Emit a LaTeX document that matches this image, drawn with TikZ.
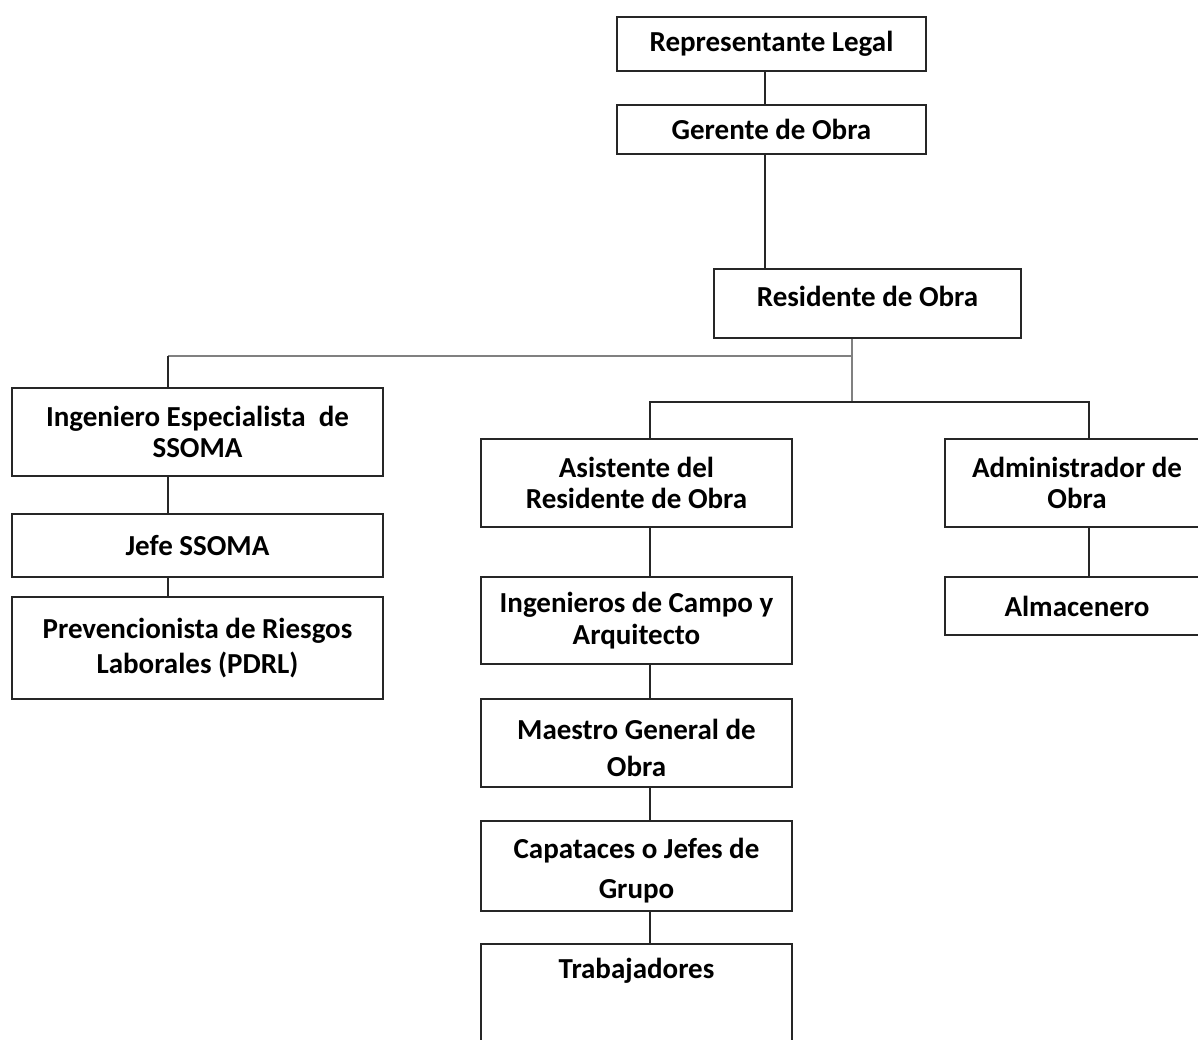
\documentclass[tikz,border=0pt]{standalone}
\usepackage{fontspec}
\setmainfont{Carlito}
\usetikzlibrary{positioning}

\begin{document}
\begin{tikzpicture}[x=0.02cm, y=-0.02cm,
  box/.style={draw=black!85, line width=0.035cm, align=center, inner sep=0pt,
    font=\fontsize{16.5}{18}\selectfont\bfseries},
  link/.style={draw=black!85, line width=0.035cm},
  glink/.style={draw=black!50, line width=0.045cm}]
\useasboundingbox (0,0) rectangle (1198,1039);
\begin{scope}
  \clip (0,0) rectangle (1198,1039);
  % upper chain
  \node[box, minimum width=6.18cm, minimum height=1.08cm] (rep) at (771.5,44) {Representante Legal};
  \node[box, minimum width=6.18cm, minimum height=0.98cm] (ger) at (771.5,129.5) {Gerente de Obra};
  \node[box, minimum width=6.14cm, text height=0.76cm, text depth=0.62cm, anchor=north] (res) at (867.5,268) {Residente de Obra};
  % left branch
  \node[box, minimum width=7.42cm, minimum height=1.76cm] (ise) at (197.5,432) {Ingeniero Especialista \ de\\SSOMA};
  \node[box, minimum width=7.42cm, minimum height=1.26cm] (jef) at (197.5,545.5) {Jefe SSOMA};
  \node[box, minimum width=7.42cm, minimum height=2.04cm] (pre) at (197.5,648) {Prevencionista de Riesgos\\[0.05cm]Laborales (PDRL)};
  % middle branch
  \node[box, minimum width=6.22cm, minimum height=1.76cm] (asi) at (636.5,483) {Asistente del\\Residente de Obra};
  \node[box, minimum width=6.22cm, minimum height=1.74cm] (ica) at (636.5,620.5) {Ingenieros de Campo y\\Arquitecto};
  \node[box, minimum width=6.22cm, minimum height=1.76cm] (mae) at (636.5,743) {\rule{0pt}{0.6cm}Maestro General de\\[0.12cm]Obra};
  \node[box, minimum width=6.22cm, minimum height=1.80cm] (cap) at (636.5,866) {\rule{0pt}{0.6cm}Capataces o Jefes de\\[0.16cm]Grupo};
  \node[box, minimum width=6.22cm, text height=0.7cm, text depth=2.1cm, anchor=north] (tra) at (636.5,943) {Trabajadores};
  % right branch
  \node[box, minimum width=5.28cm, minimum height=1.76cm] (adm) at (1077,483) {Administrador de\\Obra};
  \node[box, minimum width=5.28cm, minimum height=1.16cm] (alm) at (1077,606) {Almacenero};

  % spines
  \coordinate (xtop) at (765,0);
  \coordinate (xres) at (852,0);
  \coordinate (xlft) at (168,0);
  \coordinate (xmid) at (650,0);
  \coordinate (xadm) at (1089,0);
  \coordinate (jL) at (168,356);
  \coordinate (jR) at (852,402);

  \draw[link] (rep.south -| xtop) -- (ger.north -| xtop);
  \draw[link] (ger.south -| xtop) -- (res.north -| xtop);
  \draw[glink] (res.south -| xres) -- (jR);
  \draw[glink] (jL) -- (jL -| xres);
  \draw[link] (jL) -- (ise.north -| xlft);
  \draw[link] (ise.south -| xlft) -- (jef.north -| xlft);
  \draw[link] (jef.south -| xlft) -- (pre.north -| xlft);
  \draw[link] (asi.north -| xmid) |- (jR) -| (adm.north -| xadm);
  \foreach \a/\b in {asi/ica, ica/mae, mae/cap, cap/tra}
    \draw[link] (\a.south -| xmid) -- (\b.north -| xmid);
  \draw[link] (adm.south -| xadm) -- (alm.north -| xadm);
\end{scope}
\end{tikzpicture}
\end{document}
